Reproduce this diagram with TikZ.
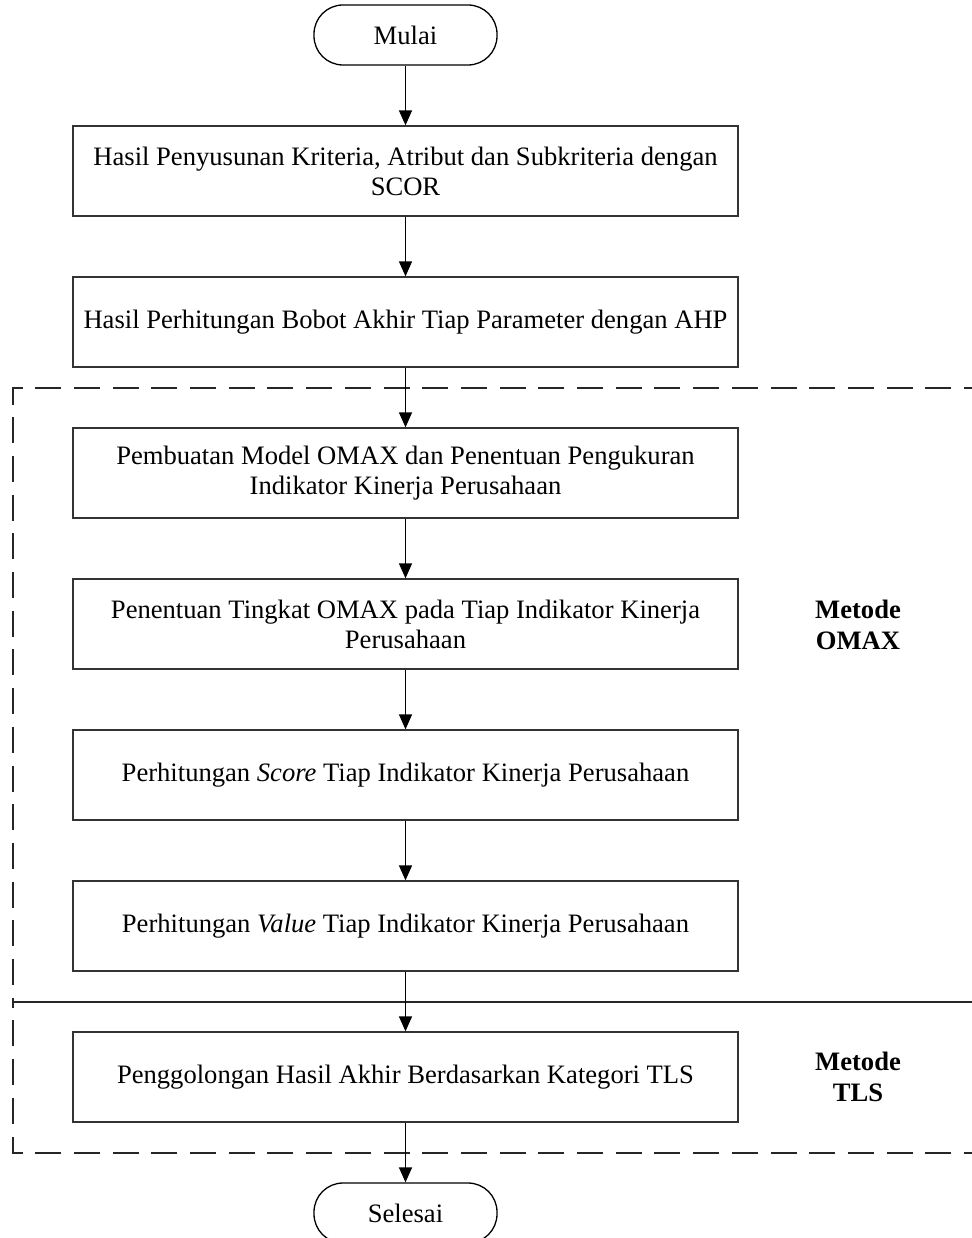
\documentclass[tikz,border=0pt]{standalone}
\usepackage{fontspec}
\setmainfont{Liberation Serif}
\usetikzlibrary{arrows.meta}
\tikzset{
  base/.style={font=\fontsize{26.6}{30}\selectfont, text=black},
  procbox/.style={base, draw=black!80, line width=1.3pt, minimum width=665pt, minimum height=90pt, align=center, inner sep=0pt},
  term/.style={base, draw=black, line width=1.3pt, rounded corners=29pt, minimum width=183pt, minimum height=60pt, inner sep=0pt},
  arr/.style={line width=1.5pt, -{Triangle[width=13pt,length=15pt]}},
  group/.style={line width=1.3pt, draw=black!85, dash pattern=on 26pt off 12.7pt},
  lbl/.style={base, font=\fontsize{26.6}{31}\selectfont\bfseries, align=center}
}
\begin{document}
\begin{tikzpicture}[x=1pt,y=-1pt]
\useasboundingbox (0,0) rectangle (971,1238);
% group frames
\draw[group] (990,388) -- (13,388) -- (13,1002) -- (990,1002);
\draw[group] (990,1153) -- (13,1153) -- (13,1002);
\draw[group, dash phase=23.65pt] (13,1002) -- (990,1002);
% nodes
\node[term] (start) at (405.5,35) {Mulai};
\node[procbox] (b1) at (405.5,171) {Hasil Penyusunan Kriteria, Atribut dan Subkriteria dengan\\SCOR};
\node[procbox] (b2) at (405.5,322) {Hasil Perhitungan Bobot Akhir Tiap Parameter dengan AHP};
\node[procbox] (b3) at (405.5,473) {Pembuatan Model OMAX dan Penentuan Pengukuran\\Indikator Kinerja Perusahaan};
\node[procbox] (b4) at (405.5,624) {Penentuan Tingkat OMAX pada Tiap Indikator Kinerja\\Perusahaan};
\node[procbox] (b5) at (405.5,775) {Perhitungan \textit{Score} Tiap Indikator Kinerja Perusahaan};
\node[procbox] (b6) at (405.5,926) {Perhitungan \textit{Value} Tiap Indikator Kinerja Perusahaan};
\node[procbox] (b7) at (405.5,1077) {Penggolongan Hasil Akhir Berdasarkan Kategori TLS};
\node[term] (end) at (405.5,1213) {Selesai};
\node[lbl] (omax) at (858,625) {Metode\\OMAX};
\node[lbl] (tls) at (858,1077) {Metode\\TLS};
% connectors
\draw[arr] (start) -- (b1);
\draw[arr] (b1) -- (b2);
\draw[arr] (b2) -- (b3);
\draw[arr] (b3) -- (b4);
\draw[arr] (b4) -- (b5);
\draw[arr] (b5) -- (b6);
\draw[arr] (b6) -- (b7);
\draw[arr] (b7) -- (end);
\end{tikzpicture}
\end{document}
